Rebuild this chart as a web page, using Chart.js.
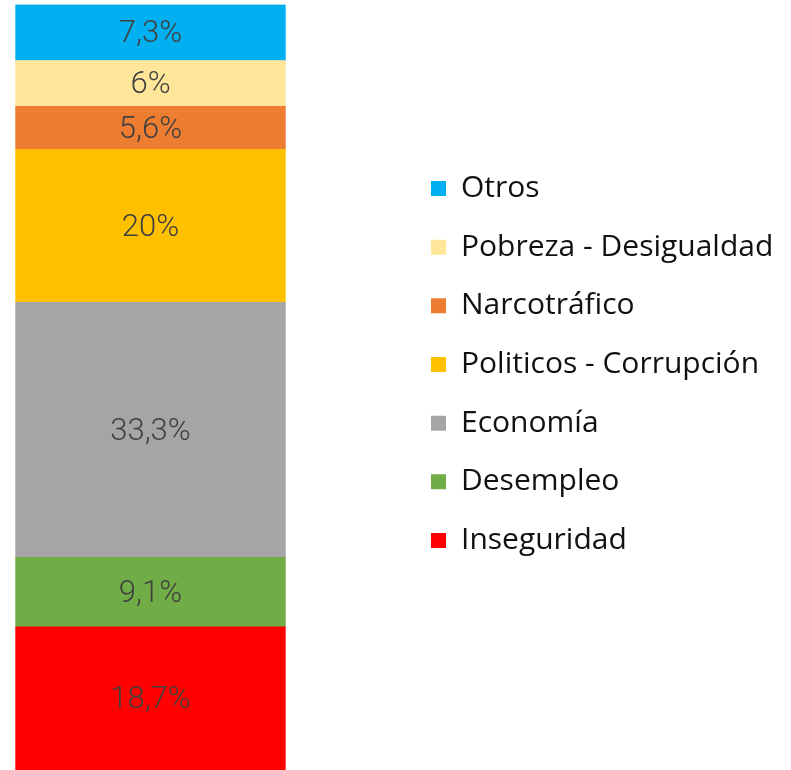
<!DOCTYPE html>
<html>
<head>
<meta charset="utf-8">
<script src="https://cdn.jsdelivr.net/npm/chart.js@4"></script>
<style>
  body { margin: 0; background: #fff; }
  canvas { display: block; }
</style>
</head>
<body>
<canvas id="chart" width="791" height="770"></canvas>
<script>
// data, bottom segment first
const categories = ["Inseguridad", "Desempleo", "Economía", "Politicos - Corrupción", "Narcotráfico", "Pobreza - Desigualdad", "Otros"];
const shares = [18.7, 9.1, 33.3, 20, 5.6, 6, 7.3];
const colors = ["#FF0000", "#70AD47", "#A5A5A5", "#FFC000", "#ED7D31", "#FFE699", "#00B0F0"];

const legendFont = { family: "'Open Sans'", size: 30, weight: "normal" };
const labelFont = "300 31px Roboto";
const itemPad = 28.67;
const boxSize = 15;

// work out legend width so its left edge lands where we want it
const mctx = document.createElement("canvas").getContext("2d");
mctx.font = "normal " + legendFont.size + "px " + legendFont.family;
const maxText = Math.max(...categories.map(c => mctx.measureText(c).width));
const legendW = itemPad + boxSize + legendFont.size / 2 + maxText + 10;
const legendLeft = 431 - itemPad;
const barLeft = 15.3, barRight = 285.7, barTop = 4.6;

// percentage text inside each segment
const segLabels = {
  id: "segLabels",
  afterDatasetsDraw(chart) {
    const ctx = chart.ctx;
    ctx.save();
    ctx.font = labelFont;
    ctx.fillStyle = "#404040";
    ctx.textAlign = "center";
    ctx.textBaseline = "middle";
    chart.data.datasets.forEach((ds, i) => {
      chart.getDatasetMeta(i).data.forEach((bar, j) => {
        const p = bar.getCenterPoint();
        ctx.fillText(String(ds.data[j]).replace(".", ",") + "%", p.x, p.y + 2);
      });
    });
    ctx.restore();
  }
};

new Chart(document.getElementById("chart"), {
  type: "bar",
  data: {
    labels: [""],
    datasets: categories.map((c, i) => ({
      label: c,
      data: [shares[i]],
      backgroundColor: colors[i],
      borderWidth: 0,
      barPercentage: 1,
      categoryPercentage: 1
    }))
  },
  options: {
    responsive: false,
    animation: false,
    layout: { padding: { left: barLeft, top: barTop, bottom: 0, right: 791 - legendLeft - legendW } },
    scales: {
      x: { stacked: true, display: false },
      y: {
        stacked: true, min: 0, max: 100, position: "right",
        ticks: { display: false }, grid: { display: false }, border: { display: false },
        afterFit: s => { s.width = legendLeft - barRight; }
      }
    },
    plugins: {
      tooltip: { enabled: false },
      legend: {
        position: "right",
        align: "start",
        reverse: true,
        maxWidth: 600,
        title: { display: true, text: "", font: { size: 12 }, padding: { top: 188.5 - 15 - barTop - itemPad - 14.4, bottom: 0 } },
        labels: {
          font: legendFont,
          color: "#111",
          boxWidth: boxSize,
          boxHeight: boxSize,
          padding: itemPad
        }
      }
    }
  },
  plugins: [segLabels]
});
</script>
</body>
</html>
